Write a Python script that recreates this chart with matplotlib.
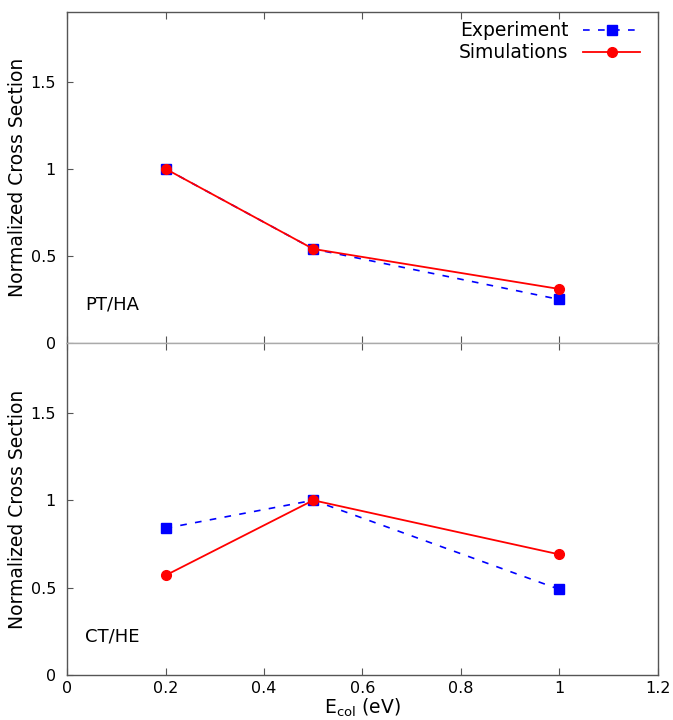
import matplotlib
matplotlib.use("Agg")
import matplotlib.pyplot as plt

energies = [0.2, 0.5, 1.0]

pt_exp = [1.0, 0.54, 0.25]
pt_sim = [1.0, 0.54, 0.31]

ct_exp = [0.84, 1.0, 0.49]
ct_sim = [0.57, 1.0, 0.69]

xticks = [0, 0.2, 0.4, 0.6, 0.8, 1, 1.2]
xticklabels = ["0", "0.2", "0.4", "0.6", "0.8", "1", "1.2"]
yticks = [0, 0.5, 1, 1.5]
yticklabels = ["0", "0.5", "1", "1.5"]

plt.rcParams['font.family'] = ['DejaVu Sans']

fig = plt.figure(figsize=(6.73, 7.2), dpi=100)
ax1 = fig.add_axes([0.0996, 0.5236, 0.878, 0.4597])
ax2 = fig.add_axes([0.0996, 0.0625, 0.878, 0.4611])


def style(ax, label):
    ax.set_xlim(0, 1.2)
    ax.set_ylim(0, 1.9)
    ax.set_xticks(xticks)
    ax.set_yticks(yticks)
    ax.set_yticklabels(yticklabels, fontsize=11.5)
    ax.tick_params(axis='x', direction='in', top=True, bottom=True, length=5,
                   color='#555555', pad=4)
    ax.tick_params(axis='y', direction='in', left=True, right=False, length=4,
                   color='#555555', pad=8)
    for s in ax.spines.values():
        s.set_color('#555555')
        s.set_linewidth(1.0)
    ax.set_ylabel("Normalized Cross Section", fontsize=13.5)
    ax.yaxis.set_label_coords(-0.068, 0.5)
    ax.text(0.03, 0.1, label, transform=ax.transAxes, fontsize=13)


# top panel
ax1.plot(energies, pt_exp, color='blue', linestyle=(0, (4, 5)), linewidth=1.2,
         marker='s', markersize=7, label='Experiment')
ax1.plot(energies, pt_sim, color='red', linestyle='-', linewidth=1.3,
         marker='o', markersize=7, label='Simulations')
style(ax1, "PT/HA")
ax1.set_xticklabels([])
ax1.spines['bottom'].set_color('#aaaaaa')
ax1.legend(loc='upper right', frameon=False, markerfirst=False, fontsize=13.5,
           handlelength=3.0, borderaxespad=0.1, labelspacing=0.15,
           bbox_to_anchor=(0.985, 1.0))

# bottom panel
ax2.plot(energies, ct_exp, color='blue', linestyle=(0, (4, 5)), linewidth=1.2,
         marker='s', markersize=7)
ax2.plot(energies, ct_sim, color='red', linestyle='-', linewidth=1.3,
         marker='o', markersize=7)
style(ax2, "CT/HE")
ax2.spines['top'].set_color('#aaaaaa')
ax2.set_xticklabels(xticklabels, fontsize=11.5)
ax2.set_xlabel(r"E$_{\rm col}$ (eV)", fontsize=13.5, labelpad=1)

fig.savefig("out.png", dpi=100)
